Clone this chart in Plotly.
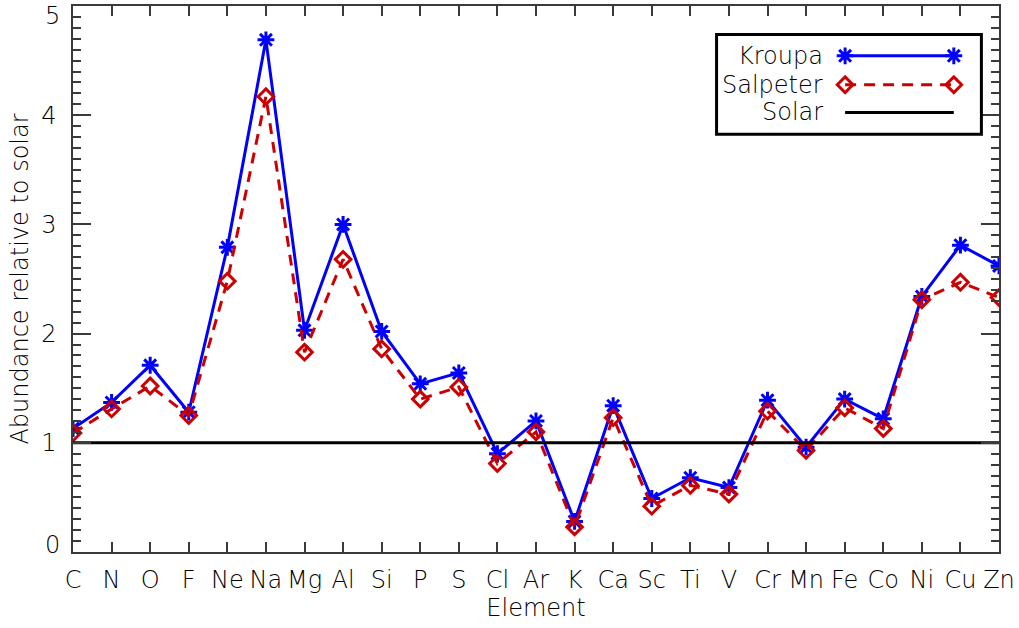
import plotly.graph_objects as go

# ---------------- data ----------------
elements = ["C", "N", "O", "F", "Ne", "Na", "Mg", "Al", "Si", "P", "S", "Cl", "Ar",
            "K", "Ca", "Sc", "Ti", "V", "Cr", "Mn", "Fe", "Co", "Ni", "Cu", "Zn"]
kroupa = [1.13, 1.37, 1.71, 1.28, 2.79, 4.69, 2.03, 3.00, 2.02, 1.54, 1.64, 0.90, 1.20,
          0.28, 1.34, 0.49, 0.68, 0.59, 1.39, 0.96, 1.40, 1.22, 2.34, 2.81, 2.62]
salpeter = [1.09, 1.31, 1.52, 1.25, 2.48, 4.17, 1.83, 2.68, 1.86, 1.40, 1.51, 0.81, 1.10,
            0.23, 1.23, 0.42, 0.61, 0.53, 1.29, 0.93, 1.32, 1.13, 2.31, 2.47, 2.33]
solar = [1.0, 1.0, 1.0, 1.0, 1.0, 1.0, 1.0, 1.0, 1.0, 1.0, 1.0, 1.0, 1.0,
         1.0, 1.0, 1.0, 1.0, 1.0, 1.0, 1.0, 1.0, 1.0, 1.0, 1.0, 1.0]
y_tick_vals = [0, 1, 2, 3, 4, 5]
series_names = ["Kroupa", "Salpeter", "Solar"]

# ---------------- style ----------------
FONT = "DejaVu Sans"
FW = 200
FS = 24
BLUE = "#0000ff"
RED = "#cc0000"
AX = "#3a3a3a"
DASH = "11px,8px"

def f(size=FS):
    return dict(size=size, family=FONT, color="black", weight=FW)

fig = go.Figure()

fig.add_trace(go.Scatter(
    x=elements, y=kroupa, mode="lines+markers", name=series_names[0],
    line=dict(color=BLUE, width=3),
    marker=dict(symbol="asterisk-open", size=14, line=dict(color=BLUE, width=3))))
fig.add_trace(go.Scatter(
    x=elements, y=salpeter, mode="lines+markers", name=series_names[1],
    line=dict(color=RED, width=3, dash=DASH),
    marker=dict(symbol="diamond-open", size=12, color=RED, line=dict(color=RED, width=3))))
fig.add_trace(go.Scatter(
    x=elements, y=solar, mode="lines", name=series_names[2],
    line=dict(color="black", width=3)))

# ---------------- custom legend (overlay axes in [0,1]) ----------------
LEG_X = [0.8338, 0.9512]
LEG_ROWS = [0.9087, 0.8557, 0.805]
LEG_TEXT_X = 0.8122
fig.add_trace(go.Scatter(
    x=LEG_X, y=[LEG_ROWS[0]] * 2, xaxis="x2", yaxis="y2", mode="lines+markers",
    line=dict(color=BLUE, width=3), cliponaxis=False,
    marker=dict(symbol="asterisk-open", size=14, line=dict(color=BLUE, width=3))))
fig.add_trace(go.Scatter(
    x=LEG_X, y=[LEG_ROWS[1]] * 2, xaxis="x2", yaxis="y2", mode="lines+markers",
    line=dict(color=RED, width=3, dash=DASH), cliponaxis=False,
    marker=dict(symbol="diamond-open", size=12, color=RED, line=dict(color=RED, width=3))))
fig.add_trace(go.Scatter(
    x=LEG_X, y=[LEG_ROWS[2]] * 2, xaxis="x2", yaxis="y2", mode="lines",
    line=dict(color="black", width=3), cliponaxis=False))

annotations = []
for name, yy in zip(series_names, LEG_ROWS):
    annotations.append(dict(x=LEG_TEXT_X, y=yy, xref="paper", yref="paper", text=name,
                            showarrow=False, xanchor="right", yanchor="middle", font=f()))
# end labels of y axis (nudged inside like the original)
annotations.append(dict(x=-0.0117, y=0.9814, xref="paper", yref="paper", text="5",
                        showarrow=False, xanchor="right", yanchor="middle", font=f()))
annotations.append(dict(x=-0.0117, y=0.0132, xref="paper", yref="paper", text="0",
                        showarrow=False, xanchor="right", yanchor="middle", font=f()))

shapes = [dict(type="rect", xref="paper", yref="paper", x0=0.695, x1=0.981, y0=0.765, y1=0.948,
               line=dict(color="black", width=3), fillcolor="rgba(0,0,0,0)", layer="above")]

fig.update_layout(
    width=1019, height=628,
    margin=dict(l=73, r=19, t=4, b=76),
    plot_bgcolor="white", paper_bgcolor="white",
    showlegend=False,
    font=f(),
    annotations=annotations, shapes=shapes,
    xaxis=dict(
        type="category", range=[0, 24],
        ticks="inside", ticklen=10, tickwidth=1.5, tickcolor=AX,
        showline=True, linecolor=AX, linewidth=1.5, mirror="ticks",
        showgrid=False, zeroline=False,
        tickfont=f(), ticklabelstandoff=5,
        title=dict(text="Element", standoff=2, font=f()),
    ),
    yaxis=dict(
        range=[0, 5], tickmode="array", tickvals=y_tick_vals,
        ticktext=["", "1", "2", "3", "4", ""],
        ticks="inside", ticklen=18, tickwidth=1.5, tickcolor=AX,
        minor=dict(tickmode="linear", tick0=0, dtick=0.1, ticks="inside", ticklen=8,
                   tickwidth=1.5, tickcolor=AX, showgrid=False),
        showline=True, linecolor=AX, linewidth=1.5, mirror="ticks",
        showgrid=False, zeroline=False,
        tickfont=f(), ticklabelstandoff=10,
        title=dict(text="Abundance relative to solar", standoff=6, font=f()),
    ),
    xaxis2=dict(overlaying="x", range=[0, 1], visible=False),
    yaxis2=dict(overlaying="y", range=[0, 1], visible=False),
)

fig.write_html("out.html", config={"displayModeBar": False},
               post_script="document.body.style.margin='0';document.body.style.overflow='hidden';")
